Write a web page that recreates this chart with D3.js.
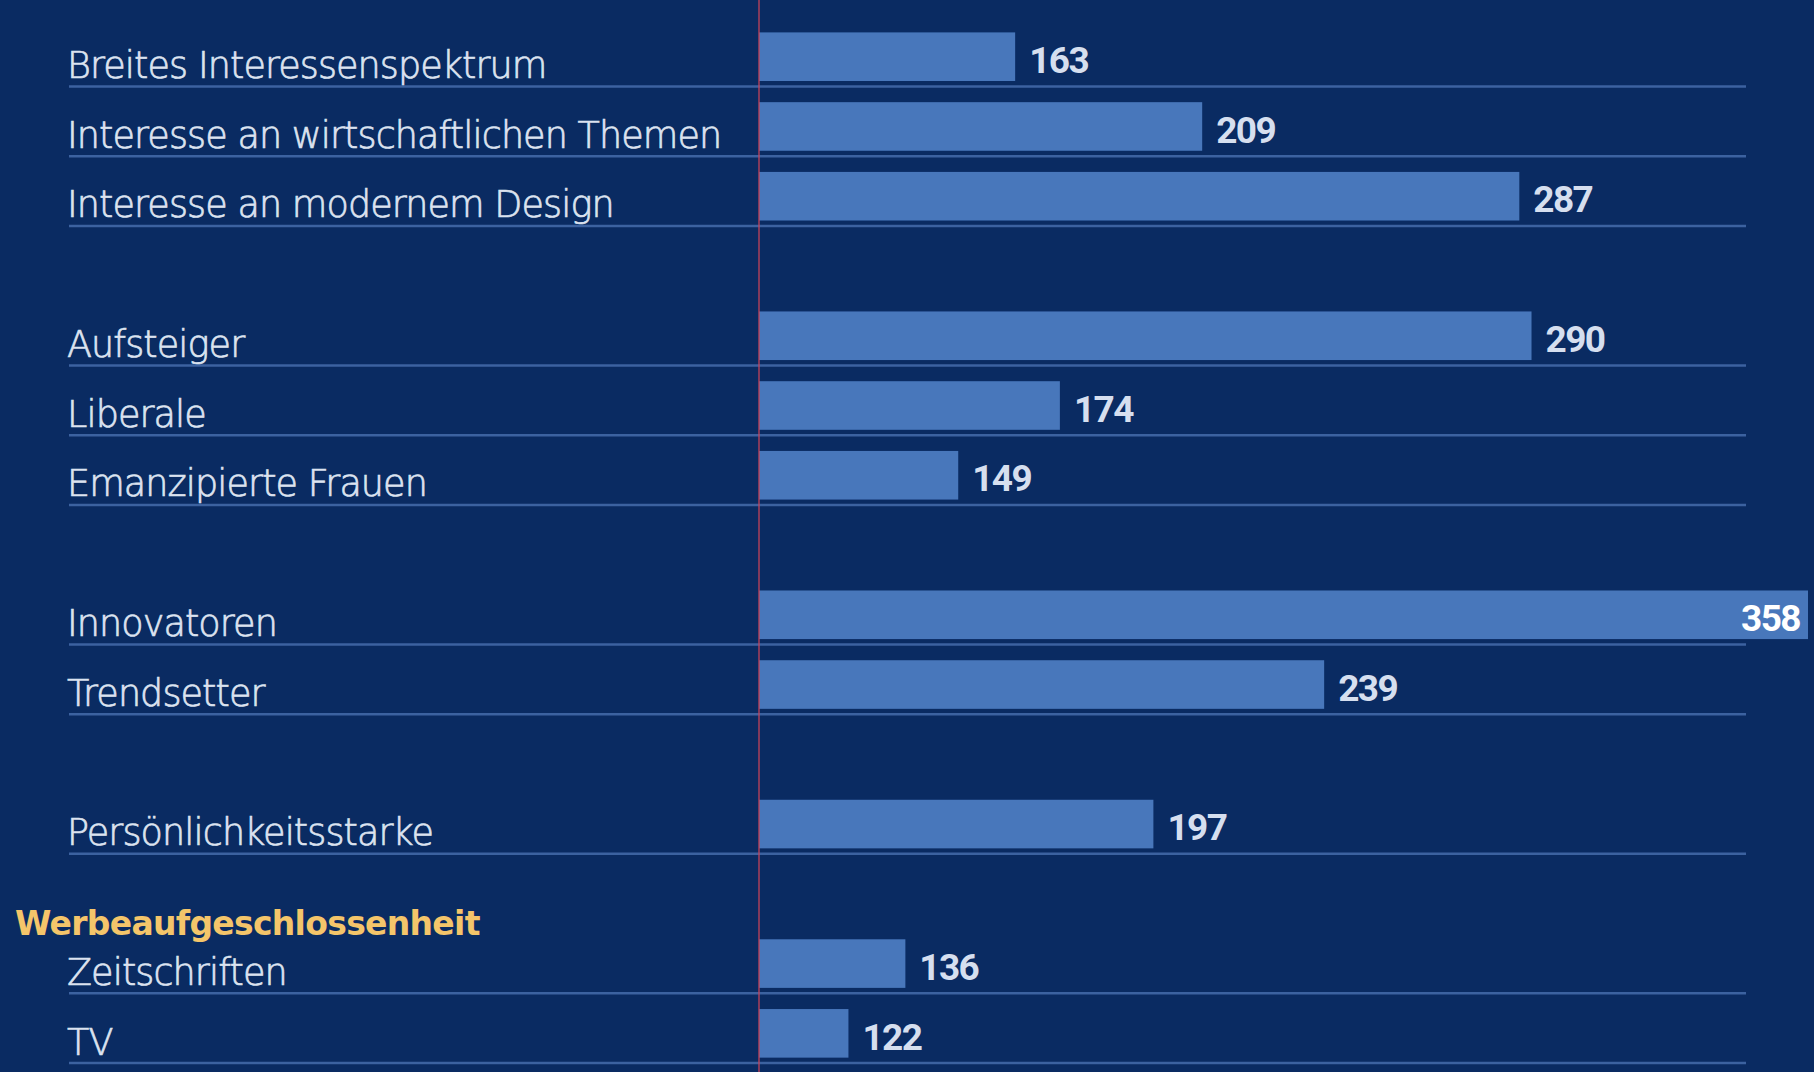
<!DOCTYPE html>
<html>
<head>
<meta charset="utf-8">
<script src="https://cdn.jsdelivr.net/npm/d3@7/dist/d3.min.js"></script>
<style>
  html, body { margin: 0; padding: 0; background: #0a2b62; }
  svg { display: block; }
</style>
</head>
<body>
<svg id="chart" width="1814" height="1072"></svg>
<script>
// Index values (base 100) per target group
const categories = [
  "Breites Interessenspektrum",
  "Interesse an wirtschaftlichen Themen",
  "Interesse an modernem Design",
  "Aufsteiger",
  "Liberale",
  "Emanzipierte Frauen",
  "Innovatoren",
  "Trendsetter",
  "Persönlichkeitsstarke",
  "Zeitschriften",
  "TV"
];
const values = [163, 209, 287, 290, 174, 149, 358, 239, 197, 136, 122];
// group number of each category; groups are separated by one empty row
const groups = [0, 0, 0, 1, 1, 1, 2, 2, 3, 4, 4];
const groupHeaders = ["", "", "", "", "Werbeaufgeschlossenheit"];
const baseValue = 100;

const W = 1814, H = 1072;
const svg = d3.select("#chart");

const slot = (i) => i + groups[i];
const nSlots = d3.max(categories, (d, i) => slot(i)) + 1;

const x = d3.scaleLinear().domain([baseValue, d3.max(values)]).range([759, 1808]);
const y = d3.scaleLinear().domain([0, nSlots]).range([32.4, 32.4 + nSlots * 69.76]);
const barH = 48.6;

svg.append("rect").attr("width", W).attr("height", H).attr("fill", "#0a2b62");

const rows = svg.append("g");
const row = rows.selectAll("g.row")
  .data(categories.map((c, i) => ({ label: c, value: values[i], s: slot(i) })))
  .join("g").attr("class", "row");

// separator line under each row
row.append("line")
  .attr("x1", 69).attr("x2", 1746)
  .attr("y1", d => y(d.s) + 54).attr("y2", d => y(d.s) + 54)
  .attr("stroke", "#3c62a0").attr("stroke-width", 2.5);

row.append("rect")
  .attr("x", x(baseValue))
  .attr("y", d => y(d.s))
  .attr("width", d => x(d.value) - x(baseValue))
  .attr("height", barH)
  .attr("fill", "#4877bb");

row.append("text")
  .attr("x", 67)
  .attr("y", d => y(d.s) + 45.5)
  .attr("font-family", "'DejaVu Sans', sans-serif")
  .attr("font-weight", 300)
  .attr("font-size", 36.5)
  .attr("letter-spacing", -0.9)
  .attr("fill", "#dce3f0")
  .attr("stroke", "#dce3f0")
  .attr("stroke-width", 0.7)
  .text(d => d.label);

const maxV = d3.max(values);
row.append("text")
  .attr("x", d => d.value === maxV ? x(d.value) - 8 : x(d.value) + 14)
  .attr("y", d => y(d.s) + 40.5)
  .attr("text-anchor", d => d.value === maxV ? "end" : "start")
  .attr("font-family", "Roboto, 'Liberation Sans', sans-serif")
  .attr("font-weight", 700)
  .attr("font-size", 37)
  .attr("letter-spacing", -1.6)
  .attr("fill", d => d.value === maxV ? "#ffffff" : "#d6dfef")
  .text(d => d.value);

// group headers sit in the empty row above their group
groupHeaders.forEach((h, g) => {
  if (!h) return;
  const first = groups.indexOf(g);
  svg.append("text")
    .attr("x", 15)
    .attr("y", y(slot(first) - 1) + 65.5)
    .attr("font-family", "'DejaVu Sans', sans-serif")
    .attr("font-weight", 700)
    .attr("font-size", 33)
    .attr("letter-spacing", -0.7)
    .attr("fill", "#f4c56a")
    .text(h);
});

// baseline at index 100
svg.append("line")
  .attr("x1", x(baseValue)).attr("x2", x(baseValue))
  .attr("y1", 0).attr("y2", H)
  .attr("stroke", "#c8445a").attr("stroke-width", 1.5).attr("opacity", 0.85);
</script>
</body>
</html>
